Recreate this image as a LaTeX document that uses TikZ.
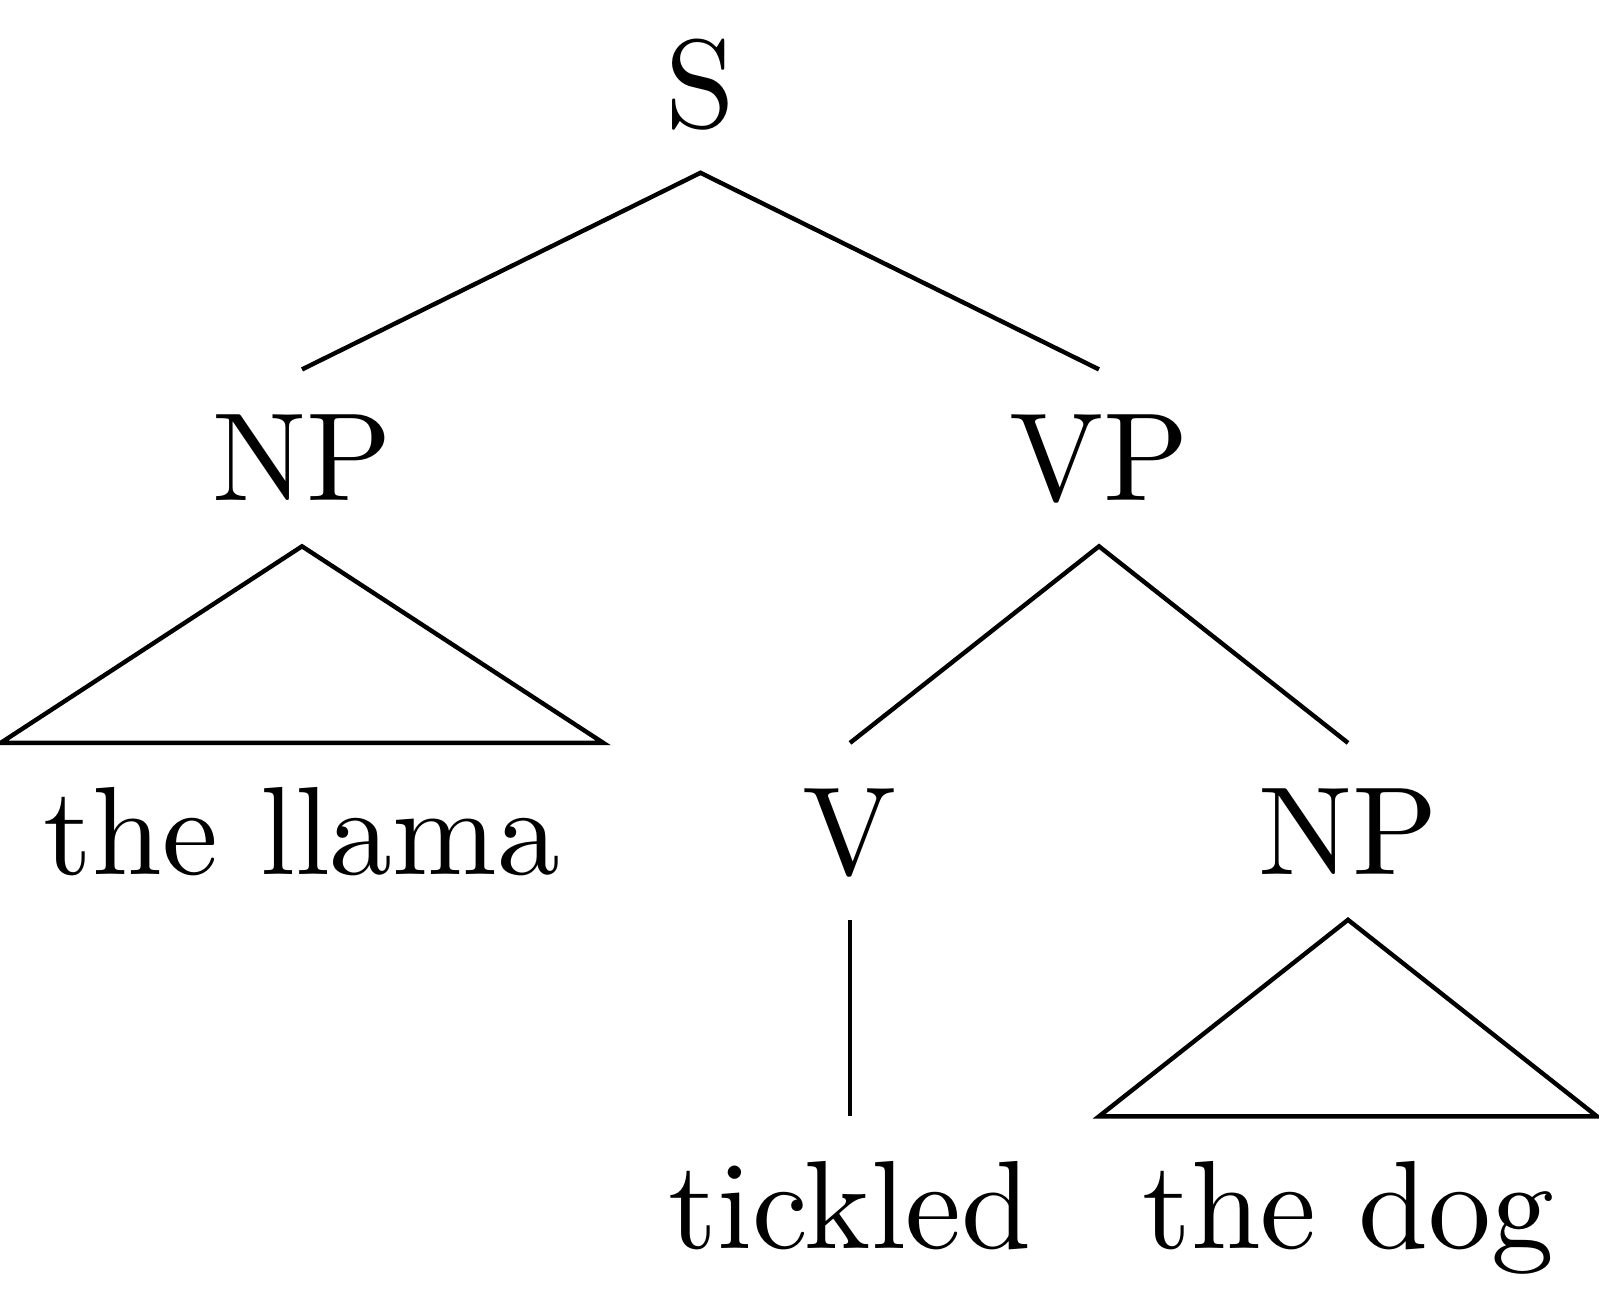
\documentclass[tikz,border=0pt]{standalone}

\begin{document}
\begin{tikzpicture}[
  cat/.style={font=\fontsize{10}{12}\selectfont, scale=3.572, anchor=base,
              text height=6.87pt, text depth=0pt, inner xsep=3.25pt, inner ysep=3.41pt},
  branch/.style={line width=1.25pt},
]
\useasboundingbox (0,0) rectangle (15.99,13.13);

% --- Phrase nodes ---
\node[cat] (s) at (7.005,11.855) {S};
\node[cat] (np1) at (3.02,8.12) {NP};
\node[cat] (vp) at (10.99,8.12) {VP};
\node[cat] (v) at (8.5,4.385) {V};
\node[cat] (np2) at (13.48,4.385) {NP};

% --- Words ---
\node[cat] (llama) at (3.02,4.385) {the llama};
\node[cat] (tickled) at (8.5,0.65) {tickled};
\node[cat] (dog) at (13.48,0.65) {the dog};

% --- Branches ---
\draw[branch] (np1.north) -- (s.south) -- (vp.north);
\draw[branch] (v.north) -- (vp.south) -- (np2.north);
\draw[branch] (v.south) -- (tickled.north);

% Roofs over unanalysed NPs
\draw[branch] (np1.south) -- (llama.north west) -- (llama.north east) -- cycle;
\draw[branch] (np2.south) -- (dog.north west) -- (dog.north east) -- cycle;

\end{tikzpicture}
\end{document}
